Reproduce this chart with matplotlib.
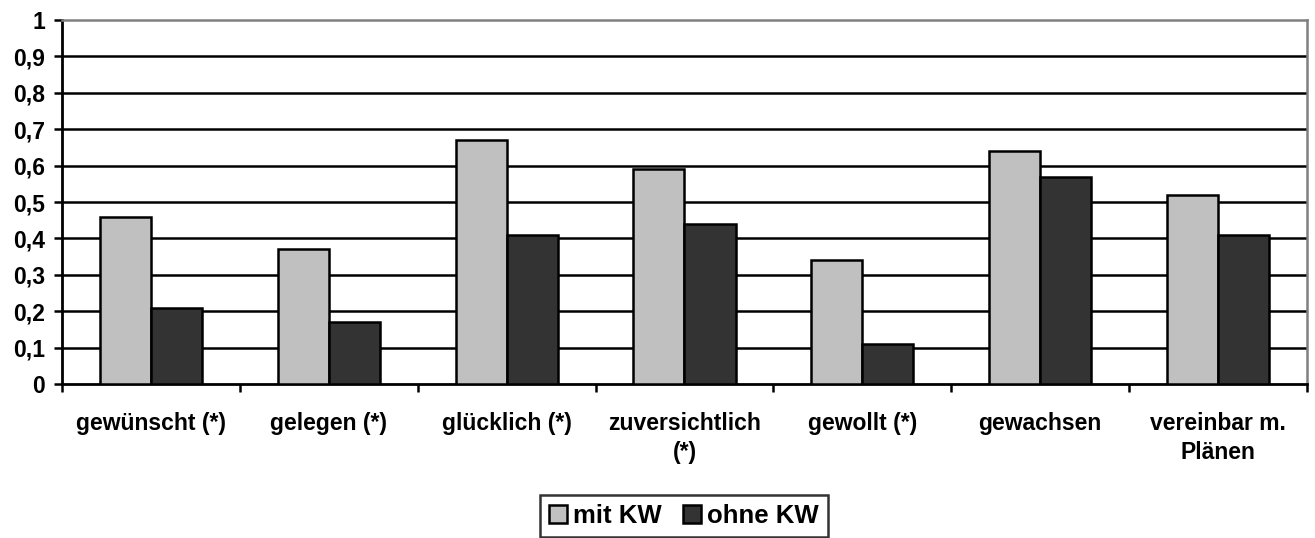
import matplotlib
matplotlib.use("Agg")
import matplotlib.pyplot as plt
import numpy as np
from matplotlib.ticker import FixedLocator, FuncFormatter

categories = ["gewünscht (*)", "gelegen (*)", "glücklich (*)", "zuversichtlich\n(*)",
              "gewollt (*)", "gewachsen", "vereinbar m.\nPlänen"]
mit_kw = [0.46, 0.37, 0.67, 0.59, 0.34, 0.64, 0.52]
ohne_kw = [0.21, 0.17, 0.41, 0.44, 0.11, 0.57, 0.41]
series_names = ["mit KW", "ohne KW"]
y_ticks = [0, 0.1, 0.2, 0.3, 0.4, 0.5, 0.6, 0.7, 0.8, 0.9, 1.0]

plt.rcParams['font.family'] = ['Liberation Sans', 'DejaVu Sans']
plt.rcParams['font.weight'] = 'bold'
FS = 16.5

fig = plt.figure(figsize=(13.15, 5.38), dpi=100)
ax = fig.add_axes([0.0471, 0.2862, 0.9468, 0.6766])

x = np.arange(len(categories))
w = 0.287
ax.bar(x - w/2, mit_kw, w, color="#C0C0C0", edgecolor="black", linewidth=1.8,
       label=series_names[0], zorder=3)
ax.bar(x + w/2, ohne_kw, w, color="#333333", edgecolor="black", linewidth=1.8,
       label=series_names[1], zorder=3)

ax.set_xlim(-0.5, len(categories) - 0.5)
ax.set_ylim(0, 1)
ax.set_yticks(y_ticks)
ax.yaxis.set_major_formatter(FuncFormatter(lambda v, p: ("%g" % round(v, 1)).replace(".", ",")))
for yv in y_ticks[1:-1]:
    ax.axhline(yv, color="black", linewidth=1.8, zorder=1)

ax.set_xticks(x)
ax.set_xticklabels(categories, fontsize=FS, fontweight="bold", linespacing=1.35)
ax.xaxis.set_minor_locator(FixedLocator(np.arange(-0.5, len(categories), 1.0)))
ax.tick_params(axis="x", which="major", length=0, pad=20)
ax.tick_params(axis="x", which="minor", length=6, width=1.8, direction="out")
ax.tick_params(axis="y", length=6, width=1.8, direction="out", labelsize=FS, pad=6)
for lab in ax.get_yticklabels():
    lab.set_fontweight("bold")

ax.spines["left"].set_linewidth(2)
ax.spines["bottom"].set_linewidth(2)
ax.spines["left"].set_color("black")
ax.spines["bottom"].set_color("black")
ax.spines["top"].set_color("#808080")
ax.spines["right"].set_color("#808080")
ax.spines["top"].set_linewidth(1.8)
ax.spines["right"].set_linewidth(1.8)

leg = fig.legend(loc="upper center", bbox_to_anchor=(0.520, 0.080), ncol=2, frameon=True,
                 fancybox=False, edgecolor="black",
                 handlelength=0.7, handleheight=0.7, handletextpad=0.25,
                 columnspacing=0.8, borderpad=0.35, borderaxespad=0,
                 prop={"weight": "bold", "size": FS + 2})
leg.get_frame().set_linewidth(1.8)
for h in leg.legend_handles:
    h.set_linewidth(1.8)

fig.savefig("out.png", dpi=100, facecolor="white")
